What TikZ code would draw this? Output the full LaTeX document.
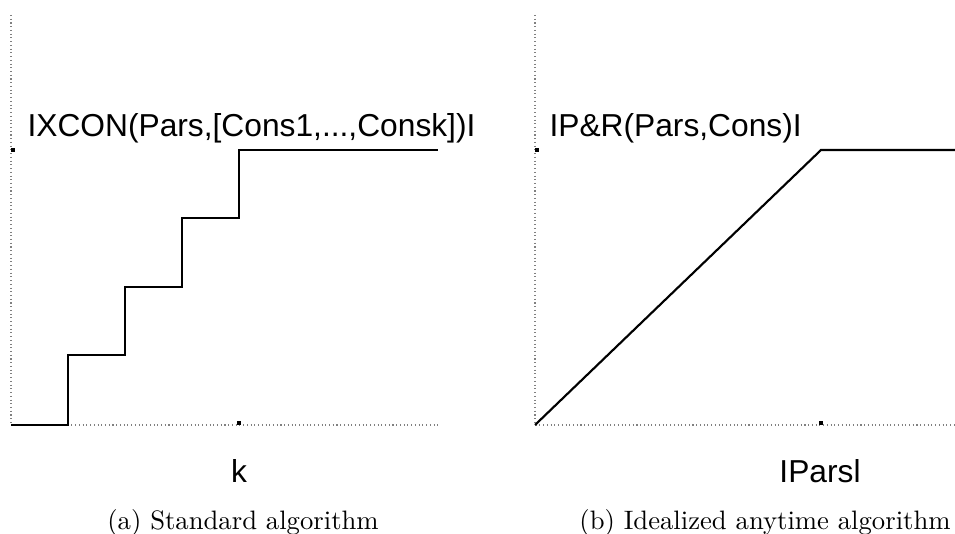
\documentclass[tikz,border=0pt]{standalone}
\usepackage{fontspec}
\newfontfamily\plotfont{Liberation Sans}
\tikzset{
  axis/.style={gray, densely dotted, line width=0.4pt},
  curve/.style={black, line width=0.8pt},
  tick/.style={fill=black, minimum width=1.4pt, minimum height=1.6pt, inner sep=0pt},
  plotlabel/.style={font=\plotfont\fontsize{11.9}{13}\selectfont, inner sep=0pt},
  caption/.style={font=\fontsize{10}{12}\selectfont, inner sep=0pt}
}
\begin{document}
\begin{tikzpicture}[x=0.375pt, y=-0.375pt]
  \useasboundingbox (0,0) rectangle (955,534);
  % (a) standard algorithm
  \coordinate (o1) at (11,425);
  \draw[axis] (11,15) -- (o1) -- (438,425);
  \node[tick] (ty1) at (13,150) {};
  \node[tick] (tx1) at (239,423) {};
  \draw[curve] (o1) -- (68,425) |- (125,355) |- (182,287) |- (239,218) |- (438,150);
  \node[plotlabel, anchor=base west] (lab1) at (27,137) {IXCON(Pars,[Cons1,...,Consk])I};
  \node[plotlabel, anchor=base] (k) at (239,483) {k};
  \node[caption, anchor=base] (capa) at (243,530) {(a) Standard algorithm};
  % (b) idealized anytime algorithm
  \coordinate (o2) at (535,425);
  \draw[axis] (535,15) -- (o2) -- (955,425);
  \node[tick] (ty2) at (537,150) {};
  \node[tick] (tx2) at (821,423) {};
  \draw[curve] (o2) -- (821,150) -- (955,150);
  \node[plotlabel, anchor=base west] (lab2) at (549,137) {IP\&R(Pars,Cons)I};
  \node[plotlabel, anchor=base] (pars) at (820,483) {IParsl};
  \node[caption, anchor=base] (capb) at (765,530) {(b) Idealized anytime algorithm};
\end{tikzpicture}
\end{document}
